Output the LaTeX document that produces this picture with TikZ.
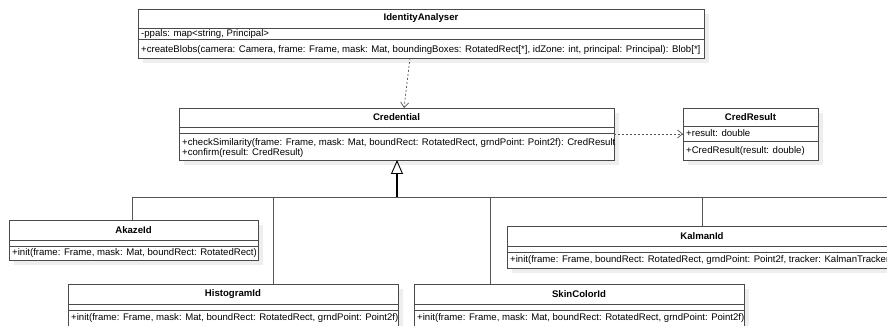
\documentclass[tikz,border=0pt]{standalone}
\usepackage{fontspec}
\setmainfont{Liberation Sans}
\usetikzlibrary{arrows.meta,calc}
\definecolor{boxc}{HTML}{4A4A4A}
\definecolor{shadowc}{HTML}{EEEEEE}
\definecolor{linec}{HTML}{555555}
\newcommand{\ucls}[8]{%
  \fill[shadowc] (#2+5,#3+5) rectangle (#2+#4+5,#3+#5+5);
  \node[box, minimum width=#4pt, minimum height=#5pt, anchor=north west] (#1) at (#2,#3) {};
  \draw[sep] (#2,#7) -- (#2+#4,#7);
  \draw[sep] (#2,#8) -- (#2+#4,#8);
  \node[ttl] (#1-t) at ({#2+#4/2},{(#3+#7)/2}) {#6};
}
\begin{document}
\begin{tikzpicture}[x=1pt,y=-1pt,
  box/.style={draw=boxc, fill=white, line width=0.9pt, inner sep=0pt, outer sep=0pt},
  sep/.style={draw=boxc, line width=0.9pt},
  ttl/.style={font=\fontsize{9.6}{10}\selectfont\bfseries, inner sep=0pt, anchor=center},
  txt/.style={font=\fontsize{9.6}{10.6}\selectfont, inner sep=0pt, anchor=west, align=left},
  dep/.style={draw=linec, dash pattern=on 2pt off 2pt, line width=0.7pt, -{Straight Barb[length=5pt,width=8pt]}},
  tl/.style={draw=linec, line width=0.9pt},
  gen/.style={draw=black, line width=1.2pt, -{Triangle[open,length=14pt,width=12pt,line width=0.9pt]}}
]
\useasboundingbox (0,0) rectangle (887,326);
\clip (0,0) rectangle (887,326);

% classes
\ucls{ia}{138}{9}{566}{49}{IdentityAnalyser}{28}{39}
\node[txt] (ia-a) at (141,34) {-ppals: map<string, Principal>};
\node[txt] (ia-m) at (141,50) {+createBlobs(camera: Camera, frame: Frame, mask: Mat, boundingBoxes: RotatedRect[*], idZone: int, principal: Principal): Blob[*]};

\ucls{cred}{179}{108}{435}{52}{Credential}{127}{133}
\node[txt] (cred-m1) at (182,143) {+checkSimilarity(frame: Frame, mask: Mat, boundRect: RotatedRect, grndPoint: Point2f): CredResult};
\node[txt] (cred-m2) at (182,153) {+confirm(result: CredResult)};

\ucls{res}{683}{108}{135}{52}{CredResult}{126}{141}
\node[txt] (res-a) at (686,133) {+result: double};
\node[txt] (res-m) at (686,151) {+CredResult(result: double)};

\ucls{ak}{9}{220}{249}{40}{AkazeId}{240}{246}
\node[txt] (ak-m) at (12,253) {+init(frame: Frame, mask: Mat, boundRect: RotatedRect)};

\ucls{kal}{507}{226}{390}{42}{KalmanId}{246}{252}
\node[txt] (kal-m) at (510,260) {+init(frame: Frame, boundRect: RotatedRect, grndPoint: Point2f, tracker: KalmanTracker)};

\ucls{hist}{68}{284}{330}{50}{HistogramId}{304}{310}
\node[txt] (hist-m) at (71,318) {+init(frame: Frame, mask: Mat, boundRect: RotatedRect, grndPoint: Point2f)};

\ucls{skin}{414}{284}{330}{50}{SkinColorId}{304}{310}
\node[txt] (skin-m) at (417,318) {+init(frame: Frame, mask: Mat, boundRect: RotatedRect, grndPoint: Point2f)};

% connectors
\coordinate (dx1) at (410,0);
\coordinate (dx2) at (404,0);
\draw[dep] (ia.south -| dx1) -- (cred.north -| dx2);
\draw[dep] (cred.east) -- (res.west);

\coordinate (j) at (397,197);
\coordinate (ax) at (132,0);
\coordinate (hx) at (273,0);
\coordinate (sx) at (490,0);
\coordinate (kx) at (702,0);
\coordinate (re) at (890,197);
\draw[tl] (ak.north -| ax) |- (re);
\draw[tl] (hist.north -| hx) -- (j -| hx);
\draw[tl] (skin.north -| sx) -- (j -| sx);
\draw[tl] (kal.north -| kx) -- (j -| kx);
\draw[gen] (j) -- (cred.south -| j);
\end{tikzpicture}
\end{document}
